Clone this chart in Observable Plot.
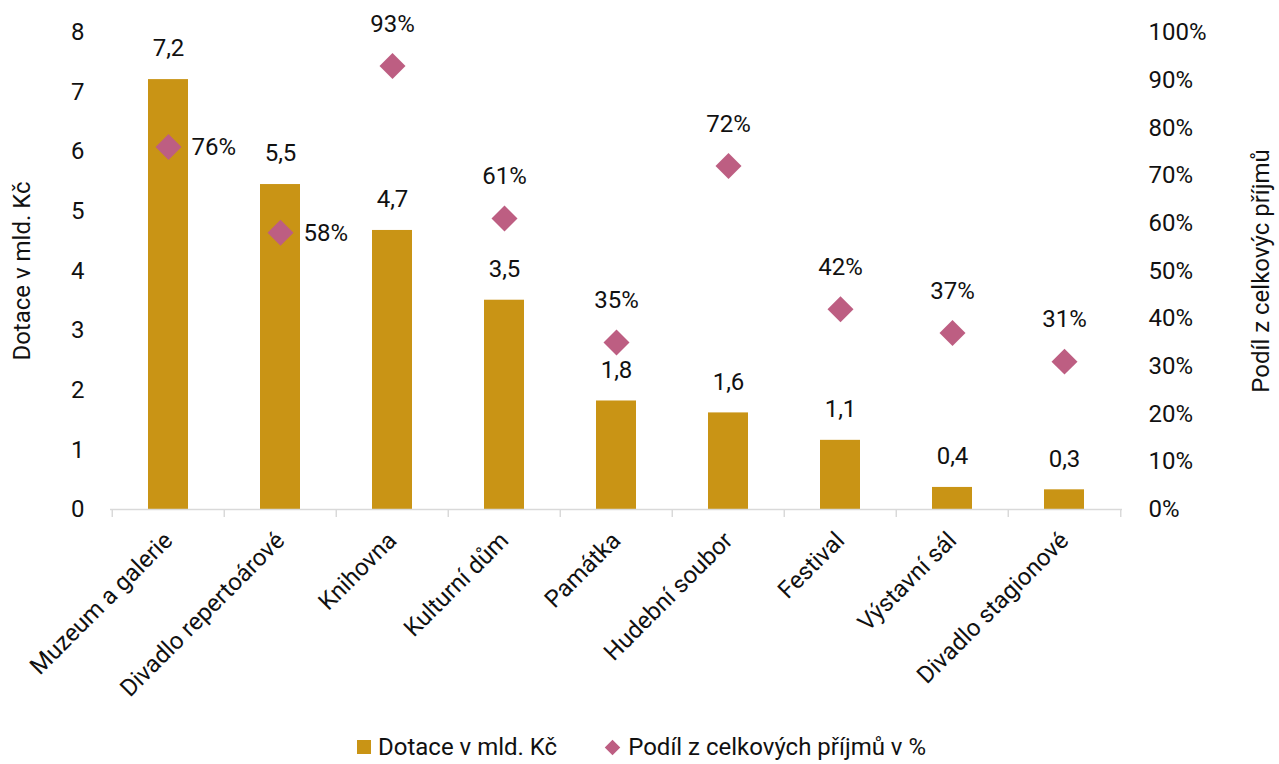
<!DOCTYPE html>
<html><head><meta charset="utf-8">
<script src="https://cdn.jsdelivr.net/npm/d3@7"></script>
<script src="https://cdn.jsdelivr.net/npm/@observablehq/plot@0.6"></script>
<style>
body{margin:0;background:#fff;font-family:Roboto,sans-serif;}
#legend{display:flex;justify-content:center;align-items:center;gap:50px;height:34px;font-size:24px;color:#111;padding-left:4px;}
.li{display:flex;align-items:center;gap:7px;}
.sq{width:14px;height:14px;background:#C99415;}
.dm{width:11px;height:11px;background:#BD5E82;transform:rotate(45deg);margin-right:3px;}
</style></head>
<body><div id="chart"></div>
<div id="legend"><div class="li"><span class="sq"></span>Dotace v mld. Kč</div><div class="li"><span class="dm"></span>Podíl z celkových příjmů v %</div></div>
<script>
const categories = ["Muzeum a galerie","Divadlo repertoárové","Knihovna","Kulturní dům","Památka","Hudební soubor","Festival","Výstavní sál","Divadlo stagionové"];
const dotace = [7.2, 5.5, 4.7, 3.5, 1.8, 1.6, 1.1, 0.4, 0.3];
const dotaceBar = [7.21, 5.45, 4.68, 3.51, 1.82, 1.62, 1.16, 0.37, 0.33];
const podil = [76, 58, 93, 61, 35, 72, 42, 37, 31];
const leftTicks = [0,1,2,3,4,5,6,7,8];
const rightTicks = [0,10,20,30,40,50,60,70,80,90,100];

const GOLD = "#C99415", PINK = "#BD5E82";
const k = 8/100; // percent -> left axis units
const data = categories.map((c,i)=>({cat:c, v:dotaceBar[i], lab:dotace[i], p:podil[i], side:i<2}));
const fmt = v => d3.format(".1f")(v).replace(".", ",");
const F = `Roboto,sans-serif`;
const FS = 24;

const plot = Plot.plot({
  width: 1279, height: 730,
  marginLeft: 110, marginRight: 157, marginTop: 32, marginBottom: 221,
  style: {fontFamily: F, fontSize: FS+"px", color: "#111", background: "#fff"},
  x: {domain: categories, paddingInner: 0.645, paddingOuter: 0.3225, axis: null},
  y: {domain: [0, 8], axis: null},
  marks: [
    Plot.barY(data, {x:"cat", y:"v", fill: GOLD}),
    Plot.ruleY([0], {stroke:"#d9d9d9", strokeWidth: 1.5}),
    Plot.ruleX(data, {x:"cat", dx:-1012/9/2, stroke:"#d9d9d9", strokeWidth:1.5, insetTop:477, insetBottom:-8}),
    Plot.ruleX(data.slice(-1), {x:"cat", dx:1012/9/2, stroke:"#d9d9d9", strokeWidth:1.5, insetTop:477, insetBottom:-8}),
    Plot.axisX({tickRotate:-45, tickSize:0, tickPadding:27, fontSize:FS, label:null}),
    Plot.axisY(leftTicks, {anchor:"left", tickSize:0, tickPadding:26, tickFormat:d=>String(d), label:"Dotace v mld. Kč", labelAnchor:"center", labelArrow:"none", labelOffset:98, fontSize:FS}),
    Plot.axisY(rightTicks.map(p=>p*k), {anchor:"right", tickSize:0, tickPadding:26, tickFormat: d=>Math.round(d/k)+"%", label:"Podíl z celkovýc příjmů", labelAnchor:"center", labelArrow:"none", labelOffset:146, fontSize:FS}),
    Plot.text(data, {x:"cat", y:"v", text: d=>fmt(d.lab), dy:-31, fontSize:FS, fill:"#111"}),
    Plot.dot(data, {x:"cat", y: d=>d.p*k, symbol:"diamond2", r:11.7, fill: PINK, stroke:"none"}),
    Plot.text(data.filter(d=>!d.side), {x:"cat", y: d=>d.p*k, text: d=>d.p+"%", dy:-42, fontSize:FS, fill:"#111"}),
    Plot.text(data.filter(d=>d.side), {x:"cat", y: d=>d.p*k, text: d=>d.p+"%", dx:23, textAnchor:"start", fontSize:FS, fill:"#111"})
  ]
});
document.getElementById("chart").appendChild(plot);
</script></body></html>
